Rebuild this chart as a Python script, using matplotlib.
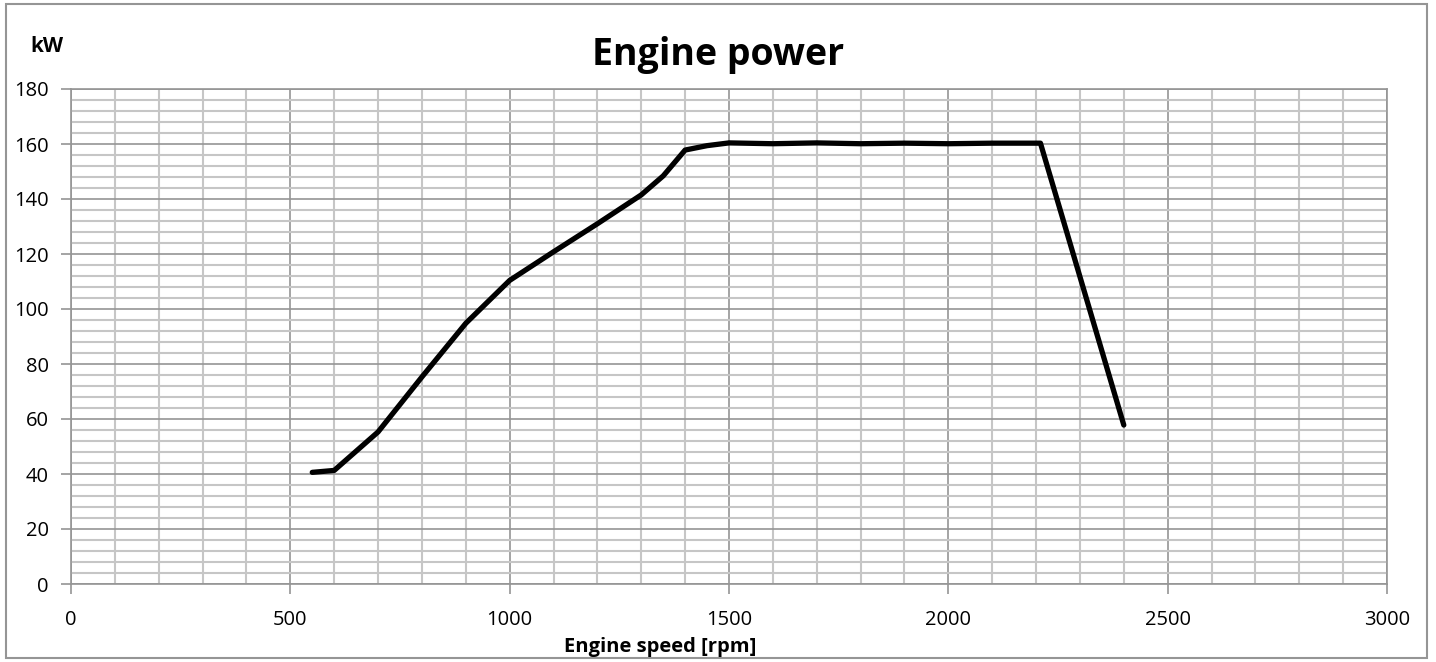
import matplotlib
matplotlib.use("Agg")
import matplotlib.pyplot as plt
from matplotlib.patches import Rectangle
from matplotlib.ticker import MultipleLocator

# engine speed (rpm) and power (kW)
speed = [550, 600, 700, 800, 900, 1000, 1100, 1200, 1300, 1350, 1400, 1450, 1500,
         1600, 1700, 1800, 1900, 2000, 2100, 2210, 2400]
power = [40.6, 41.3, 55.3, 75.3, 94.8, 110.4, 120.8, 131.0, 141.5, 148.4, 157.8, 159.4, 160.4,
         160.1, 160.4, 160.1, 160.3, 160.1, 160.3, 160.3, 57.8]

x_ticks = [0, 500, 1000, 1500, 2000, 2500, 3000]
y_ticks = [0, 20, 40, 60, 80, 100, 120, 140, 160, 180]

plt.rcParams['font.family'] = ['Open Sans', 'DejaVu Sans']

W, H = 1436, 662
fig = plt.figure(figsize=(W / 100, H / 100), dpi=100)
ax = fig.add_axes([71/W, 1 - 584/H, 1316/W, 495/H])

# grid
ax.set_xlim(0, 3000)
ax.set_ylim(0, 180)
ax.set_xticks(x_ticks)
ax.set_yticks(y_ticks)
ax.xaxis.set_minor_locator(MultipleLocator(100))
ax.yaxis.set_minor_locator(MultipleLocator(4))
ax.grid(which='minor', color='#c6c6c6', linewidth=1.5)
ax.grid(which='major', color='#959595', linewidth=1.2)
ax.set_axisbelow(True)

ax.plot(speed, power, color='black', linewidth=3.8, solid_capstyle='round', solid_joinstyle='round')

for s in ax.spines.values():
    s.set_color('#959595')
    s.set_linewidth(1.2)
ax.tick_params(which='major', length=7, color='#959595', width=1.2, labelsize=14.5)
ax.tick_params(which='minor', length=0)
ax.tick_params(axis='x', pad=12)
ax.tick_params(axis='y', pad=9)

# titles placed where the reference has them
fig.text(718/W, 1 - 65/H, 'Engine power', fontsize=27, fontweight='bold', ha='center', va='baseline')
fig.text(660/W, 1 - 652/H, 'Engine speed [rpm]', fontsize=14.5, fontweight='bold', ha='center', va='baseline')
fig.text(47/W, 1 - 52/H, 'kW', fontsize=15, fontweight='bold', ha='center', va='baseline')

# outer chart frame
fig.patches.append(Rectangle((6/W, 4/H), 1421/W, 654/H, transform=fig.transFigure,
                             fill=False, edgecolor='#959595', linewidth=1.5))

fig.savefig('out.png', dpi=100)
